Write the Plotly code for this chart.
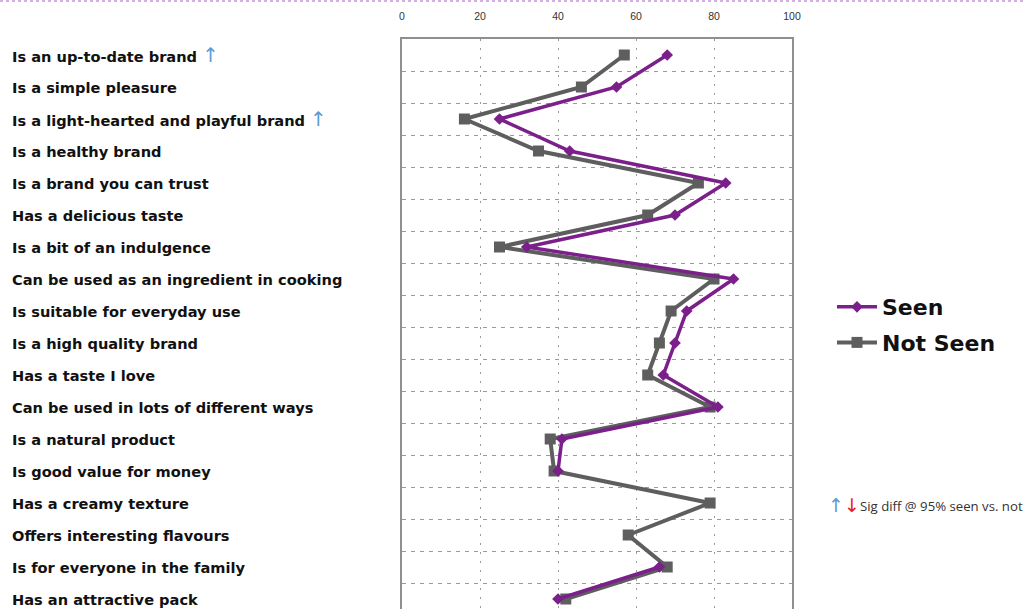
import plotly.graph_objects as go

# Brand attribute statements, top to bottom
attributes = [
    "Is an up-to-date brand",
    "Is a simple pleasure",
    "Is a light-hearted and playful brand",
    "Is a healthy brand",
    "Is a brand you can trust",
    "Has a delicious taste",
    "Is a bit of an indulgence",
    "Can be used as an ingredient in cooking",
    "Is suitable for everyday use",
    "Is a high quality brand",
    "Has a taste I love",
    "Can be used in lots of different ways",
    "Is a natural product",
    "Is good value for money",
    "Has a creamy texture",
    "Offers interesting flavours",
    "Is for everyone in the family",
    "Has an attractive pack",
]

# Attributes where Seen is significantly higher than Not Seen
sig_up = ["Is an up-to-date brand", "Is a light-hearted and playful brand"]

# Agreement (%) per attribute
seen = [68, 55, 25, 43, 83, 70, 32, 85, 73, 70, 67, 81, 41, 40, None, None, 66, 40]
not_seen = [57, 46, 16, 35, 76, 63, 25, 80, 69, 66, 63, 79, 38, 39, 79, 58, 68, 42]

x_ticks = [0, 20, 40, 60, 80, 100]

PURPLE = "#7b1f8b"
GREY = "#5e5e5e"
UP_BLUE = "#5b9bd5"
DOWN_RED = "#e8201c"
FONT = "DejaVu Sans"

W, H = 1024, 609
L, R, T, B = 402, 232, 39, 0
ROW = 32.0
plot_w = W - L - R
plot_h = H - T - B


def px_x(px):
    return (px - L) / plot_w


def px_y(px):
    return 1 - (px - T) / plot_h


rows = list(range(len(attributes)))

fig = go.Figure()
fig.add_trace(go.Scatter(
    x=not_seen, y=rows, name="Not Seen", mode="lines+markers",
    legendgroup="ns", legendrank=2,
    line=dict(color=GREY, width=4),
    marker=dict(symbol="square", size=11, color=GREY),
))
fig.add_trace(go.Scatter(
    x=seen, y=rows, name="Seen", mode="lines+markers",
    legendgroup="s", legendrank=1,
    line=dict(color=PURPLE, width=3.5),
    marker=dict(symbol="diamond", size=9, color=PURPLE),
    connectgaps=False,
))

# Left-aligned statement labels
for i, name in enumerate(attributes):
    txt = name
    if name in sig_up:
        txt += f" <span style='color:{UP_BLUE};font-weight:normal;font-size:20px'>↑</span>"
    fig.add_annotation(
        x=px_x(10), xref="paper", y=i, yref="y",
        text=txt, showarrow=False, xanchor="left", yanchor="middle",
        font=dict(family=FONT, size=14.6, color="#111111", weight="bold"),
    )

# Significance key: up/down arrows followed by the caption
fig.add_annotation(
    x=px_x(826), xref="paper", y=px_y(505), yref="paper",
    text=(f"<span style='color:{UP_BLUE}'>↑</span>"
          f"<span style='color:{DOWN_RED}'>↓</span>"),
    showarrow=False, xanchor="left", yanchor="middle",
    font=dict(family=FONT, size=19, color=UP_BLUE),
)
fig.add_annotation(
    x=px_x(858), xref="paper", y=px_y(506), yref="paper",
    text="Sig diff @ 95% seen vs. not",
    showarrow=False, xanchor="left", yanchor="middle",
    font=dict(family="Open Sans", size=13.2, color="#333333"),
)

# Dotted rule along the top edge
fig.add_shape(
    type="line", xref="paper", yref="paper",
    x0=px_x(0), x1=px_x(W),
    y0=px_y(1), y1=px_y(1),
    line=dict(color="#d6aee6", width=2, dash="3px,3px"),
)

fig.update_layout(
    width=W, height=H,
    margin=dict(l=L, r=R, t=T, b=B),
    paper_bgcolor="white", plot_bgcolor="white",
    showlegend=True,
    legend=dict(
        x=px_x(832), xanchor="left",
        y=px_y(286), yanchor="top",
        traceorder="grouped", tracegroupgap=4,
        font=dict(family=FONT, size=22, color="#111111", weight="bold"),
        bgcolor="rgba(0,0,0,0)", itemwidth=40,
    ),
    xaxis=dict(
        side="top", range=[0, 100], tickvals=x_ticks,
        ticktext=[str(v) for v in x_ticks],
        tickfont=dict(family="Liberation Sans", size=10.5, color="#333333"),
        ticks="", ticklabelstandoff=13,
        showline=True, linecolor="#8f8f8f", linewidth=2,
        showgrid=True, gridcolor="#9a9a9a", gridwidth=1, griddash="2px,7px",
        zeroline=False, fixedrange=True,
    ),
    yaxis=dict(
        range=[-0.5 + plot_h / ROW, -0.5],
        tickvals=[i + 0.5 for i in rows[:-1]],
        showticklabels=False, ticks="",
        showline=True, mirror=True, linecolor="#8f8f8f", linewidth=2,
        showgrid=True, gridcolor="#9a9a9a", gridwidth=1, griddash="4px,5px",
        zeroline=False, fixedrange=True,
    ),
)

fig.write_html("out.html")
